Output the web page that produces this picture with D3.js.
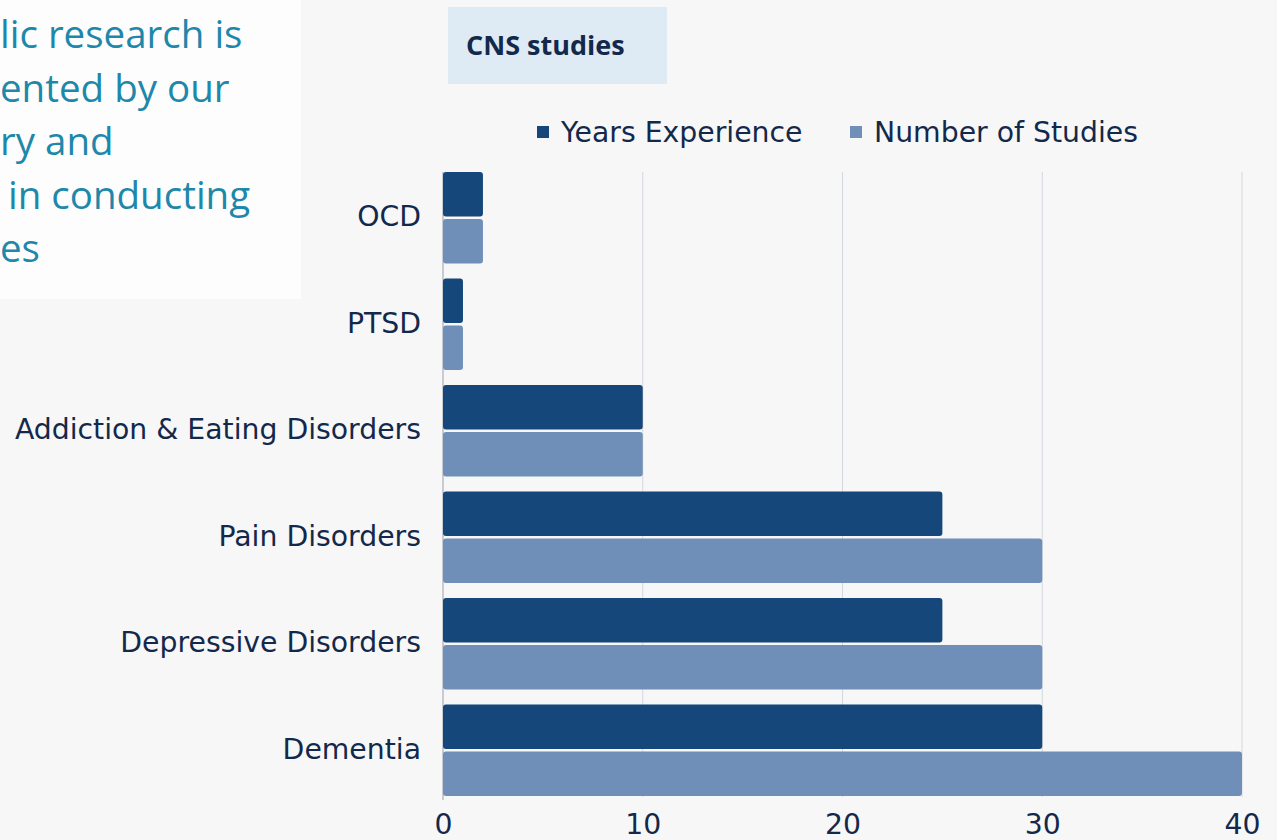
<!DOCTYPE html>
<html>
<head>
<meta charset="utf-8">
<script src="https://cdn.jsdelivr.net/npm/d3@7"></script>
<style>
  body { margin: 0; background: #f7f7f7; }
  svg { display: block; }
</style>
</head>
<body>
<div id="chart"></div>
<script>
// data
const categories = ["OCD", "PTSD", "Addiction & Eating Disorders", "Pain Disorders", "Depressive Disorders", "Dementia"];
const seriesNames = ["Years Experience", "Number of Studies"];
const yearsExperience = [2, 1, 10, 25, 25, 30];
const numberOfStudies = [2, 1, 10, 30, 30, 40];
const xTicks = [0, 10, 20, 30, 40];
const introLines = ["lic research is", "ented by our", "ry and", "in conducting", "es"];

const colors = ["#15477a", "#6f8fb8"];
const textColor = "#13294b";
const chartFont = "DejaVu Sans, sans-serif";
const chartFontSize = 28.3;

const width = 1277, height = 840;

const svg = d3.select("#chart").append("svg")
    .attr("width", width)
    .attr("height", height);

svg.append("rect")
    .attr("width", width).attr("height", height)
    .attr("fill", "#f7f7f7");

// intro text panel (cut off on the left)
svg.append("rect")
    .attr("x", 0).attr("y", 0)
    .attr("width", 301).attr("height", 299)
    .attr("fill", "#fdfdfd");

svg.append("g")
    .selectAll("text")
    .data(introLines)
    .join("text")
    .attr("x", (d, i) => i === 3 ? 8 : 0)
    .attr("y", (d, i) => 48 + i * 53.5)
    .attr("font-family", "Open Sans, sans-serif")
    .attr("font-size", 38.5)
    .attr("fill", "#1e88ab")
    .text(d => d);

// title box
svg.append("rect")
    .attr("x", 448).attr("y", 7)
    .attr("width", 219).attr("height", 77)
    .attr("fill", "#deebf5");

svg.append("text")
    .attr("x", 466).attr("y", 55)
    .attr("font-family", "Open Sans, sans-serif")
    .attr("font-weight", "bold")
    .attr("font-size", 27)
    .attr("fill", textColor)
    .text("CNS studies");

// scales
const x = d3.scaleLinear()
    .domain([0, 40])
    .range([443, 1242]);

const y = d3.scaleBand()
    .domain(categories)
    .range([164.5, 803.5])
    .paddingInner(0.14)
    .paddingOuter(0.07);

const ySub = d3.scaleBand()
    .domain(seriesNames)
    .range([0, y.bandwidth()])
    .paddingInner(0.05);

// gridlines
svg.append("g")
    .selectAll("line")
    .data(xTicks.slice(1))
    .join("line")
    .attr("x1", d => x(d)).attr("x2", d => x(d))
    .attr("y1", 172).attr("y2", 797)
    .attr("stroke", "#d3d7de")
    .attr("stroke-width", 1);

// axis line
svg.append("line")
    .attr("x1", x(0)).attr("x2", x(0))
    .attr("y1", 172).attr("y2", 800)
    .attr("stroke", "#b9bdc5")
    .attr("stroke-width", 1.5);

// bars
const barData = categories.flatMap((c, i) => [
    {cat: c, series: seriesNames[0], value: yearsExperience[i], color: colors[0]},
    {cat: c, series: seriesNames[1], value: numberOfStudies[i], color: colors[1]}
]);

svg.append("g")
    .selectAll("rect")
    .data(barData)
    .join("rect")
    .attr("x", x(0))
    .attr("y", d => y(d.cat) + ySub(d.series))
    .attr("width", d => x(d.value) - x(0))
    .attr("height", ySub.bandwidth())
    .attr("rx", 3)
    .attr("fill", d => d.color);

// y axis labels
svg.append("g")
    .selectAll("text")
    .data(categories)
    .join("text")
    .attr("x", 421)
    .attr("y", d => y(d) + y.bandwidth() / 2)
    .attr("dy", "0.3em")
    .attr("text-anchor", "end")
    .attr("font-family", chartFont)
    .attr("font-size", chartFontSize)
    .attr("fill", textColor)
    .text(d => d);

// x axis labels
const xAxis = svg.append("g")
    .attr("transform", "translate(0, 834)")
    .call(d3.axisBottom(x).tickValues(xTicks).tickSize(0).tickPadding(0));
xAxis.select(".domain").remove();
xAxis.selectAll("text")
    .attr("font-family", chartFont)
    .attr("font-size", chartFontSize)
    .attr("fill", textColor)
    .attr("dy", 0);

// legend
const legendX = [537, 850];
const legend = svg.append("g")
    .selectAll("g")
    .data(seriesNames)
    .join("g")
    .attr("transform", (d, i) => `translate(${legendX[i]}, 126)`);

legend.append("rect")
    .attr("width", 12).attr("height", 12)
    .attr("fill", (d, i) => colors[i]);

legend.append("text")
    .attr("x", 24).attr("y", 16)
    .attr("font-family", chartFont)
    .attr("font-size", 28.3)
    .attr("fill", textColor)
    .text(d => d);
</script>
</body>
</html>
